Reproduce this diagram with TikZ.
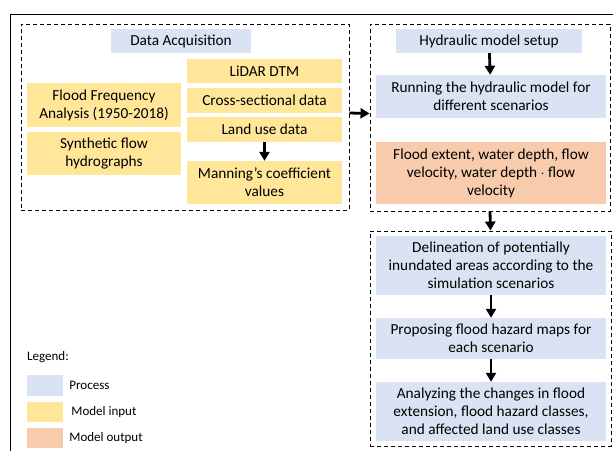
\documentclass[tikz,border=0pt]{standalone}
\usepackage{fontspec}
\setmainfont{Carlito}
\usetikzlibrary{arrows.meta, positioning}

\definecolor{procblue}{HTML}{DAE3F3}
\definecolor{inyellow}{HTML}{FFE699}
\definecolor{outorange}{HTML}{F8CBAD}

\tikzset{
	box/.style = {inner sep=0pt, align=center, font=\fontsize{15.3}{18}\selectfont},
	procbox/.style = {box, fill=procblue},
	inbox/.style = {box, fill=inyellow},
	outbox/.style = {box, fill=outorange},
	group/.style = {draw, dash pattern=on 4pt off 3pt, line width=0.9pt, inner sep=0pt},
	flow/.style = {line width=2.8pt, -{Triangle[width=10pt, length=9pt]}},
	swatch/.style = {inner sep=0pt, minimum width=36pt, minimum height=20pt},
	legtext/.style = {inner sep=0pt, font=\fontsize{13}{15}\selectfont}
}

\begin{document}
\begin{tikzpicture}[x=1pt, y=-1pt]
			\useasboundingbox (0,0) rectangle (613,451);

			\draw [line width=1pt] (10,451) -- (10,14) -- (613,14);

			\node [group, minimum width=328pt, minimum height=186pt] (grpA) at (185,117) {};
			\node [group, minimum width=240pt, minimum height=187pt] (grpB) at (490,117.5) {};
			\node [group, minimum width=241pt, minimum height=215pt] (grpC) at (490.5,338.5) {};

			\node [procbox, minimum width=140pt, minimum height=24pt] (acq) at (181,41) {Data Acquisition};
			\node [inbox, minimum width=155pt, minimum height=24pt] (lidar) at (264.5,71) {LiDAR DTM};
			\node [inbox, minimum width=155pt, minimum height=25pt] (cross) at (264.5,100.5) {Cross-sectional data};
			\node [inbox, minimum width=155pt, minimum height=25pt] (landuse) at (264.5,129.5) {Land use data};
			\node [inbox, minimum width=155pt, minimum height=43pt] (manning) at (264.5,182.5) {Manning's coefficient\\values};
			\node [inbox, minimum width=154pt, minimum height=44pt] (ffa) at (104,105) {Flood Frequency\\Analysis (1950-2018)};
			\node [inbox, minimum width=154pt, minimum height=43pt] (synth) at (104,153.5) {Synthetic flow\\hydrographs};

			\node [procbox, minimum width=186pt, minimum height=24pt] (setup) at (489,41) {Hydraulic model setup};
			\node [procbox, minimum width=230pt, minimum height=43pt] (running) at (491,96.5) {Running the hydraulic model for\\different scenarios};
			\node [outbox, minimum width=230pt, minimum height=62pt] (extent) at (491,173) {Flood extent, water depth, flow\\velocity, water depth $\cdot$ flow\\velocity};

			\node [procbox, minimum width=230pt, minimum height=59pt] (delin) at (491,265.5) {Delineation of potentially\\inundated areas according to the\\simulation scenarios};
			\node [procbox, minimum width=230pt, minimum height=41pt] (hazmap) at (491,338.5) {Proposing flood hazard maps for\\each scenario};
			\node [procbox, minimum width=230pt, minimum height=59pt] (changes) at (491,411.5) {Analyzing the changes in flood\\extension, flood hazard classes,\\and affected land use classes};

			\draw [flow] (landuse) -- (manning);
			\draw [flow] ([yshift=4pt]grpA.east) -- ([yshift=4pt]grpB.west);
			\draw [flow] (setup) -- (running);
			\draw [flow] (grpB.south) -- (grpC.north);
			\draw [flow] (delin) -- (hazmap);
			\draw [flow] (hazmap) -- (changes);

			\node [legtext, anchor=west] (legend) at (27,357) {Legend:};
			\node [swatch, fill=procblue, minimum height=21pt] (swproc) at (45,385.5) {};
			\node [swatch, fill=inyellow] (swin) at (45,412) {};
			\node [swatch, fill=outorange] (swout) at (45,438) {};
			\node [legtext, right=6pt of swproc] (lgproc) {Process};
			\node [legtext, right=8pt of swin] (lgin) {Model input};
			\node [legtext, right=6pt of swout] (lgout) {Model output};
		\end{tikzpicture}
\end{document}
